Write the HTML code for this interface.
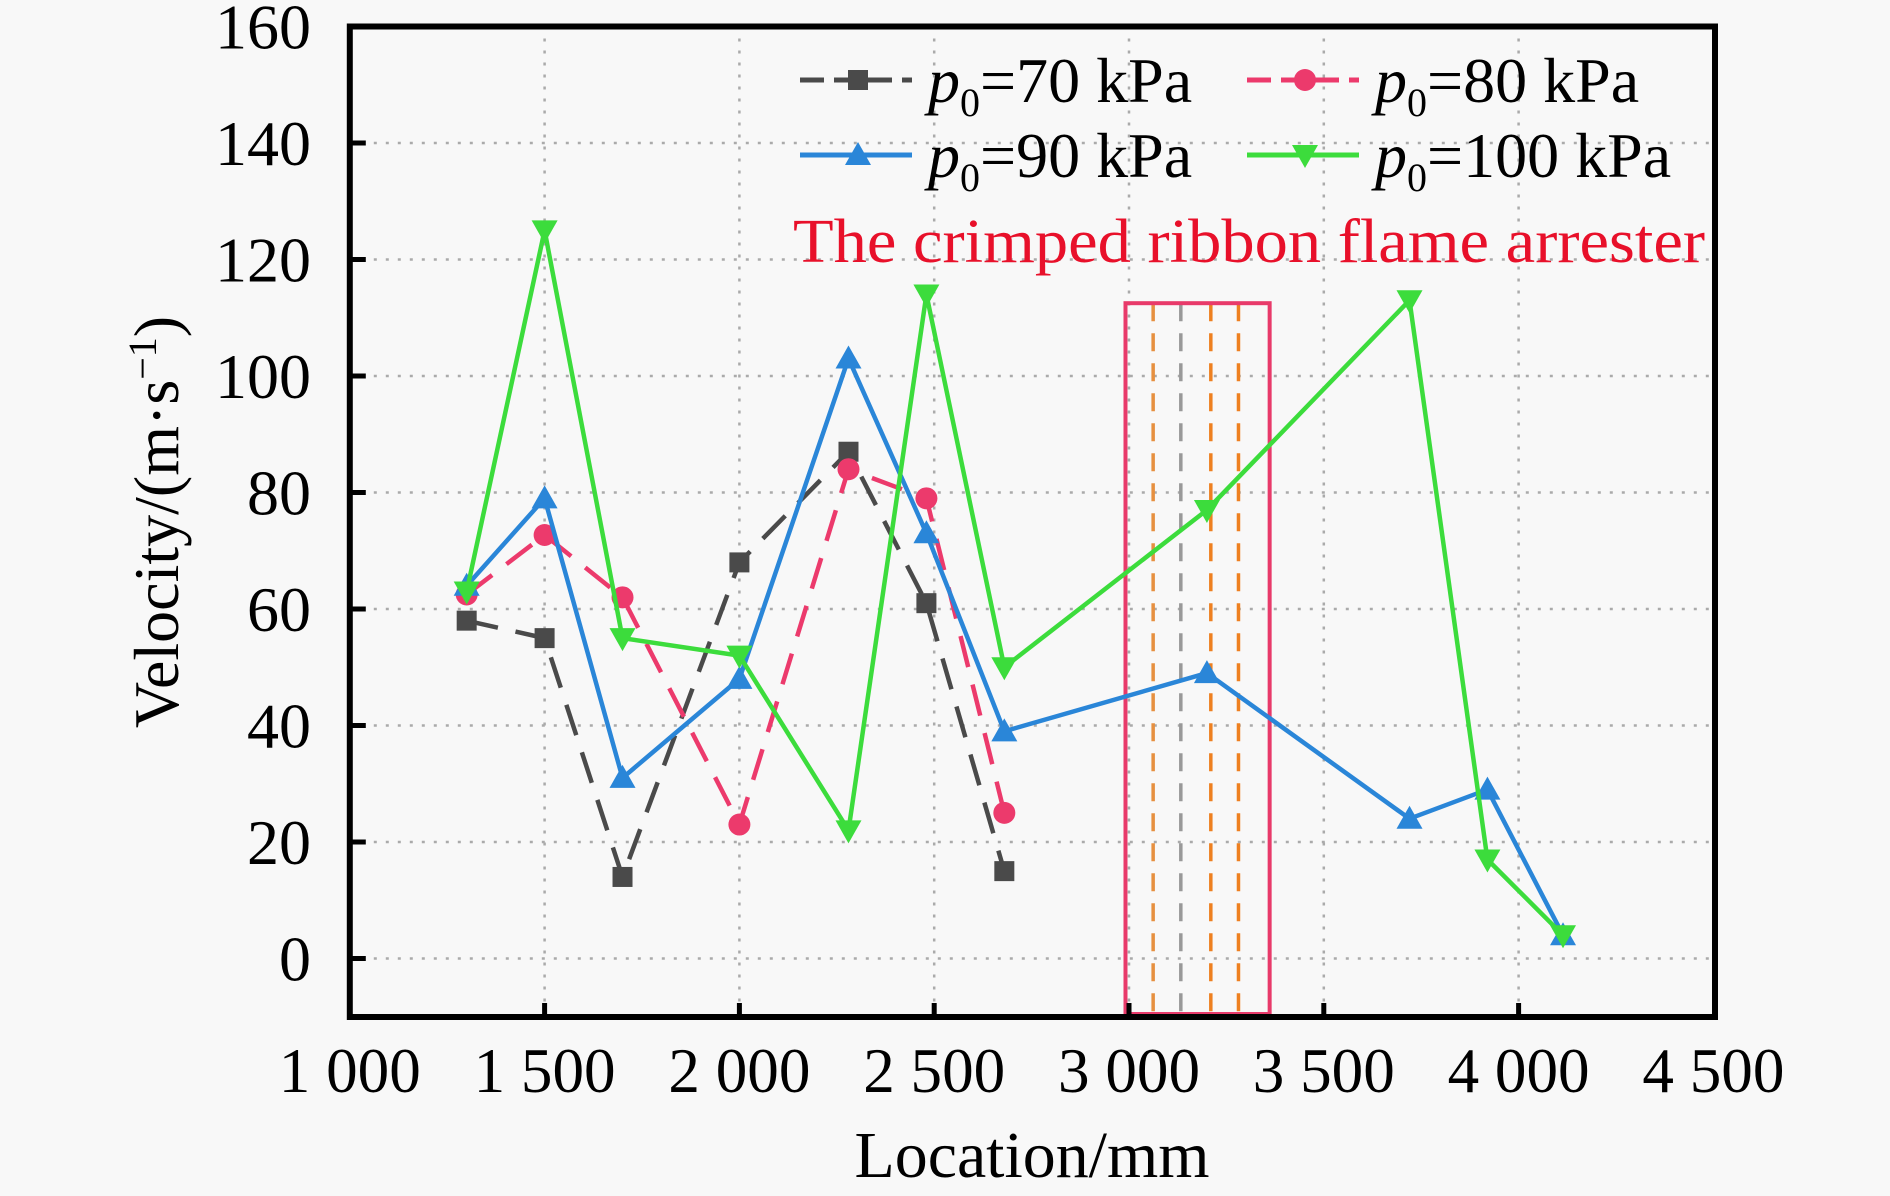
<!DOCTYPE html>
<html><head><meta charset="utf-8"><style>
html,body{margin:0;padding:0;background:#f8f8f8;}
svg{display:block;font-family:"Liberation Serif",serif;}
</style></head><body>
<svg id="chart" width="1890" height="1196" viewBox="0 0 1890 1196" xmlns="http://www.w3.org/2000/svg">
<rect x="0" y="0" width="1890" height="1196" fill="#f8f8f8"/>
<g id="grid"></g>
<g id="arrester"></g>
<g id="series"></g>
<g id="axes"></g>
<g id="legend"></g>
<text x="1249" y="262" font-size="62" fill="#e8102a" textLength="912" lengthAdjust="spacingAndGlyphs" text-anchor="middle">The crimped ribbon flame arrester</text>
<text x="1032" y="1177" font-size="66" text-anchor="middle" fill="#000" textLength="355" lengthAdjust="spacingAndGlyphs">Location/mm</text>
<text transform="translate(178,522) rotate(-90)" font-size="64" text-anchor="middle" fill="#000">Velocity/(m·s<tspan baseline-shift="super" font-size="40">−1</tspan>)</text>
</svg>
<script>
const xTicks = [1000,1500,2000,2500,3000,3500,4000,4500];
const xTickLabels = ["1 000","1 500","2 000","2 500","3 000","3 500","4 000","4 500"];
const yTicks = [0,20,40,60,80,100,120,140,160];
const yTickLabels = ["0","20","40","60","80","100","120","140","160"];
const xShort = [1300,1500,1700,2000,2280,2480,2680];
const xLong = [1300,1500,1700,2000,2280,2480,2680,3200,3720,3920,4114];
const v70 = [58,55,14,68,87,61,15];
const v80 = [62.5,72.7,62,23,84,79,25];
const v90 = [64,79,31,48,103,73,39,49,24,29,4];
const v100 = [63,125,55,52,22,114,50,77,113,17,4];
const arresterRange = [2991,3361];
const arresterTop = 112.5;
const arresterLines = [3062,3133,3210,3281];

const NS="http://www.w3.org/2000/svg";
const X0=349.8, XPX=194.8/500, Y0=958.5, YPX=116.5/20;
const L=349.8, R=1715, T=26.5, B=1017;
function sx(v){return X0+(v-1000)*XPX;}
function sy(v){return Y0-v*YPX;}
function mk(tag,attrs,parent){const e=document.createElementNS(NS,tag);for(const k in attrs)e.setAttribute(k,attrs[k]);parent.appendChild(e);return e;}

const grid=document.getElementById('grid');
xTicks.forEach((t,i)=>{
  if(i===0||i===xTicks.length-1)return;
  const g=mk('line',{x1:sx(t),x2:sx(t),y1:T,y2:B,stroke:'#aaa','stroke-width':2.5,'stroke-dasharray':'3 9'},grid);
  
  
});
yTicks.forEach((t,i)=>{
  if(i===yTicks.length-1)return;
  const g=mk('line',{x1:L,x2:R,y1:sy(t),y2:sy(t),stroke:'#aaa','stroke-width':2.5,'stroke-dasharray':'3 9'},grid);
  
  
});

const arr=document.getElementById('arrester');
const lineCols=['#e69040','#999','#ee8020','#ee8020'];
arresterLines.forEach((v,i)=>{
  const l=mk('line',{x1:sx(v),x2:sx(v),y1:sy(arresterTop),y2:B,stroke:lineCols[i],'stroke-width':3.5,'stroke-dasharray':'18 12'},arr);
  
  
});
const rr=mk('rect',{x:sx(arresterRange[0]),y:sy(arresterTop),width:sx(arresterRange[1])-sx(arresterRange[0]),height:B-sy(arresterTop)-3,fill:'none',stroke:'#e83a6a','stroke-width':4},arr);



function marker(type,cx,cy,col,parent){
  let e;
  if(type==='square')e=mk('rect',{x:cx-10,y:cy-10,width:20,height:20,fill:col},parent);
  else if(type==='circle')e=mk('circle',{cx:cx,cy:cy,r:11,fill:col},parent);
  else if(type==='up')e=mk('polygon',{points:`${cx},${cy-13} ${cx-13},${cy+10} ${cx+13},${cy+10}`,fill:col},parent);
  else e=mk('polygon',{points:`${cx},${cy+13} ${cx-13},${cy-10} ${cx+13},${cy-10}`,fill:col},parent);
  return e;
}
const series=[
  {name:'p70',xs:xShort,ys:v70,col:'#4a4a4a',dash:'32 18',m:'square'},
  {name:'p80',xs:xShort,ys:v80,col:'#ec3a6c',dash:'32 18',m:'circle'},
  {name:'p90',xs:xLong,ys:v90,col:'#2a86d8',dash:'',m:'up'},
  {name:'p100',xs:xLong,ys:v100,col:'#3cdc3c',dash:'',m:'down'}
];
const sg=document.getElementById('series');
series.forEach(s=>{
  const g=mk('g',{},sg);
  
  
  const pts=s.ys.map((v,i)=>sx(s.xs[i])+','+sy(v)).join(' ');
  const pl=mk('polyline',{points:pts,fill:'none',stroke:s.col,'stroke-width':4.5,'stroke-dasharray':s.dash,'stroke-linejoin':'round'},g);
  
  
  s.ys.forEach((v,i)=>{
    const m=marker(s.m,sx(s.xs[i]),sy(v),s.col,g);
    
    
  });
});

const ax=document.getElementById('axes');
const fr=mk('rect',{x:L,y:T,width:R-L,height:B-T,fill:'none',stroke:'#000','stroke-width':6},ax);


xTicks.forEach((t,i)=>{
  if(i>0&&i<xTicks.length-1){
    const tk=mk('line',{x1:sx(t),x2:sx(t),y1:B,y2:B-14,stroke:'#000','stroke-width':5},ax);
    
    
  }
  const tx=mk('text',{x:sx(t),y:1092,'font-size':64,'text-anchor':'middle',fill:'#000',textLength:142,lengthAdjust:'spacingAndGlyphs'},ax);
  tx.textContent=xTickLabels[i];
  
  
});
yTicks.forEach((t,i)=>{
  if(i<yTicks.length-1){
    const tk=mk('line',{x1:L,x2:L+16,y1:sy(t),y2:sy(t),stroke:'#000','stroke-width':5},ax);
    
    
  }
  const tx=mk('text',{x:311,y:sy(t)+22,'font-size':64,'text-anchor':'end',fill:'#000'},ax);
  tx.textContent=yTickLabels[i];
  
  
});

const lg=document.getElementById('legend');
const legPos=[[800,80],[1247,80],[800,155],[1247,155]];
const legLabels=['70','80','90','100'];
series.forEach((s,i)=>{
  const [lx,ly]=legPos[i];
  const g=mk('g',{},lg);
  
  
  mk('line',{x1:lx,x2:lx+112,y1:ly,y2:ly,stroke:s.col,'stroke-width':5,'stroke-dasharray':s.dash?'24 10':''},g);
  marker(s.m,lx+58,ly,s.col,g);
  const t=mk('text',{x:lx+128,y:ly+22,'font-size':64,fill:'#000'},g);
  t.innerHTML='<tspan font-style="italic">p</tspan><tspan font-size="40" dy="14">0</tspan><tspan dy="-14">='+legLabels[i]+' kPa</tspan>';
});
</script>
</body></html>
